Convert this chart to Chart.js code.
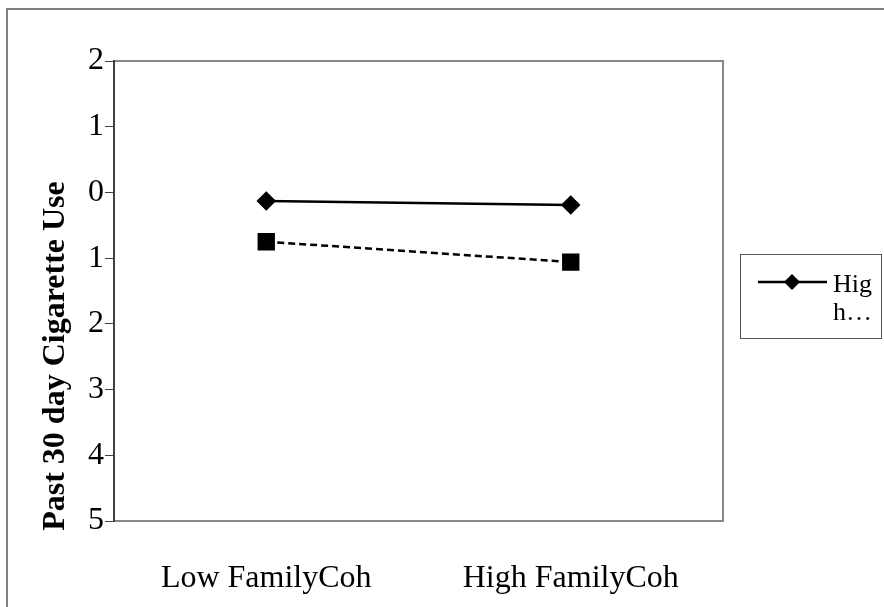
<!DOCTYPE html>
<html>
<head>
<meta charset="utf-8">
<script src="https://cdn.jsdelivr.net/npm/chart.js@4"></script>
<style>
html,body{margin:0;padding:0;background:#fff;}
#wrap{width:884px;height:607px;position:relative;}
</style>
</head>
<body>
<div id="wrap"><canvas id="c" width="884" height="607"></canvas></div>
<script>
const categories = ["Low FamilyCoh", "High FamilyCoh"];
const seriesNames = ["High FamilyCoh", "Low FamilyCoh"];
const seriesHigh = [-0.13, -0.19];
const seriesLow = [-0.75, -1.06];
const yTicks = [2, 1, 0, -1, -2, -3, -4, -5];
const yTitle = "Past 30 day Cigarette Use";

const FONT = "'Liberation Serif', 'Times New Roman', serif";

const framePlugin = {
  id: 'frame',
  beforeDraw(chart) {
    const ctx = chart.ctx, a = chart.chartArea;
    ctx.save();
    ctx.fillStyle = '#fff';
    ctx.fillRect(0, 0, chart.width, chart.height);
    ctx.strokeStyle = '#7f7f7f';
    ctx.lineWidth = 2;
    ctx.strokeRect(7, 9, chart.width + 20, chart.height + 20);
    ctx.strokeStyle = '#898989';
    ctx.lineWidth = 2;
    ctx.strokeRect(a.left, a.top, a.right - a.left, a.bottom - a.top);
    ctx.restore();
  },
  afterDraw(chart) {
    const ctx = chart.ctx, a = chart.chartArea;
    ctx.save();
    // axis title overlapping tick labels as in reference
    ctx.translate(a.left - 58, a.bottom - 165);
    ctx.rotate(-Math.PI / 2);
    ctx.font = "bold 32px " + FONT;
    ctx.fillStyle = '#000';
    ctx.textAlign = 'center';
    ctx.textBaseline = 'middle';
    ctx.fillText(yTitle, 0, 0);
    ctx.restore();
    // legend box
    const lx = a.right + 17, ly = 254, lw = 141, lh = 84;
    ctx.save();
    ctx.strokeStyle = '#555';
    ctx.lineWidth = 1;
    ctx.strokeRect(lx + 0.5, ly + 0.5, lw, lh);
    const my = 282;
    ctx.strokeStyle = '#000';
    ctx.lineWidth = 2.5;
    ctx.beginPath();
    ctx.moveTo(lx + 18, my);
    ctx.lineTo(lx + 87, my);
    ctx.stroke();
    ctx.fillStyle = '#000';
    ctx.beginPath();
    const cx = lx + 52, r = 8;
    ctx.moveTo(cx, my - r); ctx.lineTo(cx + r, my); ctx.lineTo(cx, my + r); ctx.lineTo(cx - r, my); ctx.closePath();
    ctx.fill();
    ctx.font = "26px " + FONT;
    ctx.textBaseline = 'alphabetic';
    ctx.textAlign = 'left';
    ctx.fillText(seriesNames[0].slice(0, 3), lx + 93, my + 10);
    ctx.fillText(seriesNames[0].slice(3, 4) + "\u2026", lx + 93, my + 38);
    ctx.restore();
  }
};

new Chart(document.getElementById('c'), {
  type: 'line',
  data: {
    labels: categories,
    datasets: [
      {
        label: seriesNames[0],
        data: seriesHigh,
        borderColor: '#000',
        backgroundColor: '#000',
        borderWidth: 2.5,
        pointStyle: 'rectRot',
        pointRadius: 8,
        pointHoverRadius: 8,
        tension: 0
      },
      {
        label: seriesNames[1],
        data: seriesLow,
        borderColor: '#000',
        backgroundColor: '#000',
        borderWidth: 2.5,
        borderDash: [7, 4],
        pointStyle: 'rect',
        pointRadius: 10.5,
        pointHoverRadius: 10.5,
        tension: 0
      }
    ]
  },
  options: {
    responsive: false,
    animation: false,
    events: [],
    layout: { padding: { left: 0, top: 61, right: 161, bottom: 0 } },
    plugins: { legend: { display: false }, tooltip: { enabled: false } },
    scales: {
      x: {
        offset: true,
        grid: { display: false, drawTicks: false },
        border: { display: true, color: '#898989', width: 2 },
        ticks: { color: '#000', font: { family: FONT, size: 32 }, padding: 38, maxRotation: 0 },
        afterFit(s) { s.height = 86; }
      },
      y: {
        min: -5, max: 2,
        afterBuildTicks(s) { s.ticks = yTicks.map(v => ({ value: v })); },
        grid: { display: true, drawOnChartArea: false, drawTicks: true, tickLength: 9, color: '#404040', lineWidth: 1 },
        border: { display: true, color: '#404040', width: 2 },
        ticks: { color: '#000', font: { family: FONT, size: 32 }, padding: 1,
                 callback: v => String(Math.abs(v)) },
        afterFit(s) { s.width = 114; }
      }
    }
  },
  plugins: [framePlugin]
});
</script>
</body>
</html>
